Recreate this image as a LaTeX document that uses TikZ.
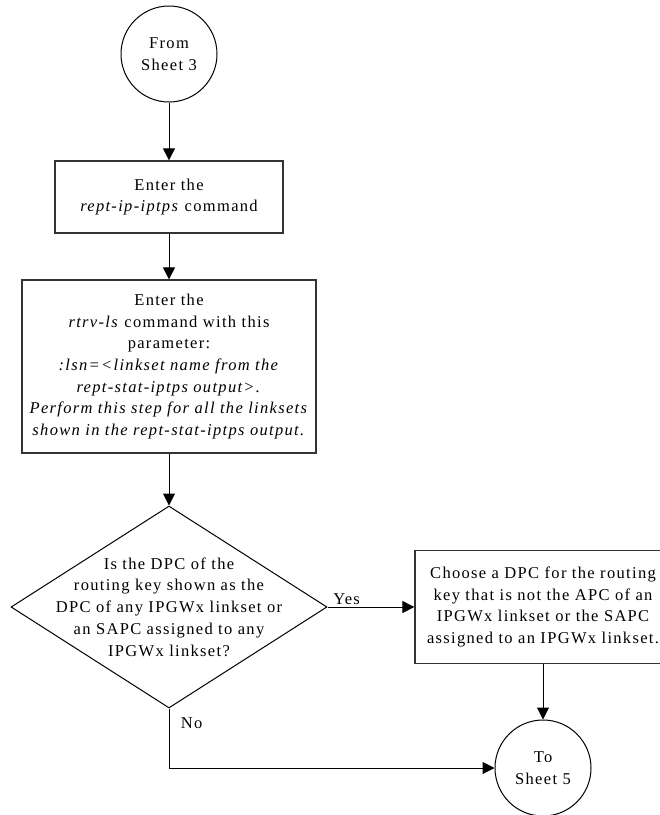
\documentclass[tikz,border=0pt]{standalone}
\usepackage{fontspec}
\setmainfont{Liberation Serif}[LetterSpace=8]
\usetikzlibrary{arrows.meta,shapes.geometric}

\begin{document}
\begin{tikzpicture}[x=1pt,y=-1pt,
  every node/.style={font=\fontsize{16.5}{21.7}\selectfont},
  >={Triangle[length=12pt,width=12pt]},
  sheetref/.style={draw,circle,line width=1pt,minimum size=96pt,inner sep=0pt,align=center},
  stepbox/.style={draw=black!80,rectangle,line width=1.3pt,inner sep=0pt,align=center},
  decision/.style={draw,diamond,line width=1pt,minimum width=316pt,minimum height=202pt,inner sep=0pt},
  line width=1pt]
\useasboundingbox (0,0) rectangle (660,815);

\node[sheetref] (from3) at (169,54) {From\\Sheet 3};

\node[stepbox,minimum width=228pt,minimum height=72pt] (iptps) at (169,197)
  {Enter the\\\textit{rept-ip-iptps} command};

\node[stepbox,minimum width=294pt,minimum height=173pt] (rtrvls) at (169,366.5)
  {Enter the\\\textit{rtrv-ls} command with this\\parameter:\\
   \textit{:lsn=<linkset name from the}\\\textit{rept-stat-iptps output>.}\\
   \textit{Perform this step for all the linksets}\\
   \textit{shown in the rept-stat-iptps output.}};

\node[decision] (dpc) at (169,607) {};
\node[align=center] (dpcq) at (dpc.center)
  {Is the DPC of the\\routing key shown as the\\DPC of any IPGWx linkset or\\
   an SAPC assigned to any\\IPGWx linkset?};

\node[stepbox,minimum width=256pt,minimum height=113pt] (choose) at (543,607)
  {Choose a DPC for the routing\\key that is not the APC of an\\
   IPGWx linkset or the SAPC\\assigned to an IPGWx linkset.};

\node[sheetref] (to5) at (543,768) {To\\Sheet 5};

\draw[->] (from3) -- (iptps);
\draw[->] (iptps) -- (rtrvls);
\draw[->] (rtrvls) -- (dpc.north);

\draw[->]
(dpc.east) --
node[pos=0.22,above,inner sep=2pt] {Yes}
(choose.west);

\draw[->] (choose) -- (to5);

\draw[->]
(dpc.south) |-
node[pos=0.125,right,xshift=8pt] {No}
(to5.west);

\end{tikzpicture}
\end{document}
